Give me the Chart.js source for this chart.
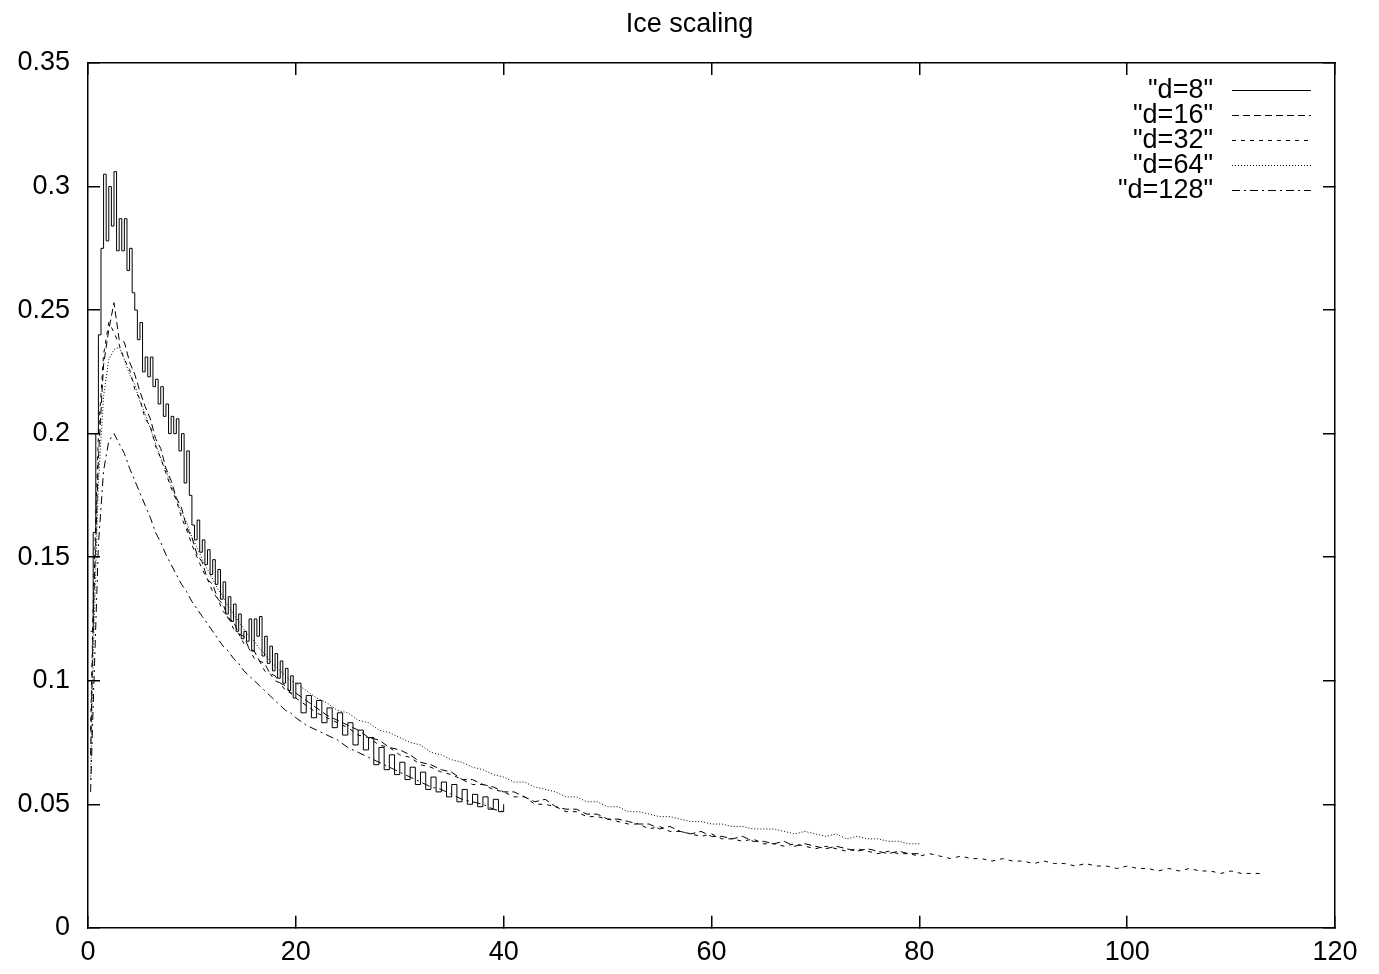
<!DOCTYPE html>
<html>
<head>
<meta charset="utf-8">
<title>Ice scaling</title>
<script src="https://cdn.jsdelivr.net/npm/chart.js@4.4.0/dist/chart.umd.min.js"></script>
<style>
  html, body { margin: 0; padding: 0; background: #fff; }
  #wrap { width: 1379px; height: 974px; }
</style>
</head>
<body>
<div id="wrap"><canvas id="iceChart" width="1379" height="974"></canvas></div>
<script>

// x positions for the larger runs (0.5 steps up to 20, then unit steps)
const xGrid = [
  0.25, 0.5, 1, 1.5, 2, 2.5, 3, 3.5, 4, 4.5,
  5, 5.5, 6, 6.5, 7, 7.5, 8, 8.5, 9, 9.5,
  10, 10.5, 11, 11.5, 12, 12.5, 13, 13.5, 14, 14.5,
  15, 15.5, 16, 16.5, 17, 17.5, 18, 18.5, 19, 19.5,
  20,
  21, 22, 23, 24, 25, 26, 27, 28, 29, 30,
  31, 32, 33, 34, 35, 36, 37, 38, 39, 40,
  41, 42, 43, 44, 45, 46, 47, 48, 49, 50,
  51, 52, 53, 54, 55, 56, 57, 58, 59, 60,
  61, 62, 63, 64, 65, 66, 67, 68, 69, 70,
  71, 72, 73, 74, 75, 76, 77, 78, 79, 80,
  81, 82, 83, 84, 85, 86, 87, 88, 89, 90,
  91, 92, 93, 94, 95, 96, 97, 98, 99, 100,
  101, 102, 103, 104, 105, 106, 107, 108, 109, 110,
  111, 112, 113
]

// d=8 is sampled finer (0.25 up to 20, 0.5 after)
const xGrid8 = [
  0.25, 0.5, 0.75, 1, 1.25, 1.5, 1.75, 2, 2.25, 2.5,
  2.75, 3, 3.25, 3.5, 3.75, 4, 4.25, 4.5, 4.75, 5,
  5.25, 5.5, 5.75, 6, 6.25, 6.5, 6.75, 7, 7.25, 7.5,
  7.75, 8, 8.25, 8.5, 8.75, 9, 9.25, 9.5, 9.75, 10,
  10.25, 10.5, 10.75, 11, 11.25, 11.5, 11.75, 12, 12.25, 12.5,
  12.75, 13, 13.25, 13.5, 13.75, 14, 14.25, 14.5, 14.75, 15,
  15.25, 15.5, 15.75, 16, 16.25, 16.5, 16.75, 17, 17.25, 17.5,
  17.75, 18, 18.25, 18.5, 18.75, 19, 19.25, 19.5, 19.75, 20,
  20.5, 21, 21.5, 22, 22.5, 23, 23.5, 24, 24.5, 25,
  25.5, 26, 26.5, 27, 27.5, 28, 28.5, 29, 29.5, 30,
  30.5, 31, 31.5, 32, 32.5, 33, 33.5, 34, 34.5, 35,
  35.5, 36, 36.5, 37, 37.5, 38, 38.5, 39, 39.5, 40
]

const seriesNames = ['"d=8"', '"d=16"', '"d=32"', '"d=64"', '"d=128"']

const d8 = [
  0.12, 0.16, 0.2, 0.24, 0.275, 0.305, 0.278, 0.3, 0.284, 0.306,
  0.274, 0.287, 0.274, 0.287, 0.266, 0.275, 0.257, 0.25, 0.238, 0.245,
  0.225, 0.231, 0.223, 0.231, 0.219, 0.222, 0.212, 0.219, 0.207, 0.212,
  0.2, 0.207, 0.2, 0.206, 0.193, 0.2, 0.18, 0.193, 0.175, 0.163,
  0.157, 0.165, 0.152, 0.157, 0.147, 0.153, 0.143, 0.149, 0.139, 0.145,
  0.133, 0.14, 0.127, 0.134, 0.124, 0.131, 0.12, 0.127, 0.117, 0.12,
  0.116, 0.125, 0.112, 0.125, 0.118, 0.126, 0.11, 0.118, 0.107, 0.114,
  0.104, 0.111, 0.101, 0.108, 0.099, 0.105, 0.096, 0.102, 0.093, 0.099,
  0.087, 0.094, 0.085, 0.092, 0.083, 0.089, 0.081, 0.087, 0.078, 0.083,
  0.074, 0.08, 0.072, 0.077, 0.066, 0.073, 0.064, 0.07, 0.062, 0.067,
  0.06, 0.065, 0.058, 0.063, 0.056, 0.061, 0.055, 0.059, 0.053, 0.058,
  0.051, 0.056, 0.05, 0.054, 0.049, 0.053, 0.048, 0.052, 0.047, 0.05
]

const d16 = [
  0.07, 0.125, 0.19, 0.228, 0.242, 0.253, 0.238, 0.237, 0.229, 0.224,
  0.217, 0.211, 0.206, 0.198, 0.194, 0.186, 0.181, 0.174, 0.17, 0.162,
  0.158, 0.151, 0.148, 0.141, 0.139, 0.133, 0.131, 0.125, 0.124, 0.119,
  0.118, 0.113, 0.112, 0.108, 0.107, 0.103, 0.102, 0.099, 0.098, 0.095,
  0.095,
  0.092, 0.089, 0.086, 0.084, 0.082, 0.08, 0.077, 0.076, 0.073, 0.072,
  0.07, 0.067, 0.066, 0.064, 0.063, 0.06, 0.06, 0.058, 0.057, 0.055,
  0.055, 0.053, 0.051, 0.052, 0.049, 0.048, 0.048, 0.046, 0.046, 0.044,
  0.044, 0.043, 0.042, 0.042, 0.04, 0.041, 0.039, 0.038, 0.039, 0.037,
  0.037, 0.036, 0.037, 0.035, 0.035, 0.034, 0.035, 0.033, 0.034, 0.033,
  0.032, 0.033, 0.032, 0.031, 0.032, 0.031, 0.03, 0.031, 0.03, 0.03
]

const d32 = [
  0.08, 0.13, 0.2, 0.232, 0.245, 0.241, 0.236, 0.23, 0.226, 0.218,
  0.214, 0.206, 0.203, 0.195, 0.19, 0.184, 0.178, 0.173, 0.166, 0.161,
  0.155, 0.15, 0.145, 0.141, 0.136, 0.133, 0.128, 0.126, 0.121, 0.119,
  0.115, 0.113, 0.109, 0.108, 0.104, 0.103, 0.1, 0.099, 0.096, 0.095,
  0.093,
  0.09, 0.087, 0.085, 0.083, 0.081, 0.078, 0.077, 0.074, 0.073, 0.07,
  0.069, 0.066, 0.065, 0.063, 0.062, 0.06, 0.058, 0.058, 0.056, 0.055,
  0.053, 0.053, 0.05, 0.05, 0.049, 0.047, 0.047, 0.045, 0.045, 0.044,
  0.043, 0.042, 0.042, 0.04, 0.041, 0.039, 0.039, 0.038, 0.037, 0.038,
  0.036, 0.036, 0.035, 0.036, 0.034, 0.034, 0.033, 0.034, 0.033, 0.032,
  0.033, 0.032, 0.031, 0.032, 0.031, 0.03, 0.031, 0.03, 0.03, 0.029,
  0.03, 0.029, 0.028, 0.029, 0.028, 0.028, 0.027, 0.028, 0.027, 0.027,
  0.026, 0.027, 0.026, 0.026, 0.025, 0.026, 0.025, 0.025, 0.024, 0.025,
  0.024, 0.024, 0.023, 0.024, 0.023, 0.024, 0.023, 0.023, 0.022, 0.023,
  0.022, 0.022, 0.022
]

const d64 = [
  0.06, 0.11, 0.18, 0.215, 0.23, 0.234, 0.235, 0.23, 0.224, 0.22,
  0.213, 0.208, 0.202, 0.196, 0.19, 0.185, 0.179, 0.174, 0.168, 0.164,
  0.158, 0.154, 0.149, 0.145, 0.141, 0.137, 0.134, 0.13, 0.127, 0.124,
  0.121, 0.118, 0.116, 0.113, 0.111, 0.108, 0.106, 0.104, 0.102, 0.1,
  0.099,
  0.096, 0.093, 0.091, 0.088, 0.087, 0.084, 0.083, 0.08, 0.079, 0.077,
  0.075, 0.074, 0.071, 0.07, 0.068, 0.067, 0.065, 0.064, 0.062, 0.061,
  0.059, 0.059, 0.057, 0.056, 0.055, 0.053, 0.053, 0.051, 0.051, 0.049,
  0.049, 0.047, 0.047, 0.046, 0.045, 0.045, 0.044, 0.043, 0.043, 0.042,
  0.042, 0.041, 0.041, 0.04, 0.04, 0.04, 0.039, 0.038, 0.039, 0.038,
  0.037, 0.038, 0.036, 0.037, 0.036, 0.036, 0.035, 0.035, 0.034, 0.034
]

const d128 = [
  0.055, 0.09, 0.155, 0.185, 0.197, 0.2, 0.196, 0.192, 0.186, 0.181,
  0.176, 0.171, 0.166, 0.16, 0.156, 0.151, 0.147, 0.143, 0.139, 0.136,
  0.132, 0.129, 0.126, 0.123, 0.12, 0.117, 0.114, 0.112, 0.109, 0.107,
  0.104, 0.102, 0.1, 0.098, 0.096, 0.094, 0.092, 0.09, 0.088, 0.087,
  0.085,
  0.082, 0.08, 0.078, 0.076, 0.073, 0.071, 0.069, 0.067, 0.065, 0.063,
  0.061, 0.059, 0.057, 0.056, 0.054, 0.052, 0.051, 0.05, 0.048, 0.047
]

const xTicks = [0, 20, 40, 60, 80, 100, 120]
const yTicks = [0, 0.05, 0.1, 0.15, 0.2, 0.25, 0.3, 0.35]
const yTickLabels = ['0', '0.05', '0.1', '0.15', '0.2', '0.25', '0.3', '0.35']


const FONT = "'Liberation Sans', Arial, Helvetica, sans-serif"
Chart.defaults.font.family = FONT
Chart.defaults.font.size = 27
Chart.defaults.color = '#000'


function pts(xs, ys){
  return ys.map((y, i) => ({x: xs[i], y: y}))
}


// gnuplot style ticks: short, pointing into the plot
function inwardGrid(){
  return {
    drawOnChartArea: false,
    drawTicks: true,
    tickLength: -12,
    color: '#000',
    lineWidth: 1.5
  }
}


// key drawn inside the plot, top right, text first then the line sample
const keyInside = {
  id: 'keyInside',
  afterDatasetsDraw(chart){
    const ctx = chart.ctx
    const area = chart.chartArea
    ctx.save()
    ctx.font = '27px ' + FONT
    ctx.textAlign = 'right'
    ctx.textBaseline = 'middle'
    ctx.fillStyle = '#000'
    chart.data.datasets.forEach((ds, i) => {
      const y = Math.round(area.top + 27 + i * 25) + 0.5
      ctx.fillText(ds.label, area.right - 122, y)
      ctx.beginPath()
      ctx.setLineDash(ds.borderDash || [])
      ctx.lineWidth = 1
      ctx.strokeStyle = '#000'
      ctx.moveTo(area.right - 103, y)
      ctx.lineTo(area.right - 24, y)
      ctx.stroke()
    })
    ctx.restore()
  }
}


let dsets = [
  {
    label: seriesNames[0],
    data: pts(xGrid8, d8),
    stepped: true,
    borderDash: []
  },
  {
    label: seriesNames[1],
    data: pts(xGrid, d16),
    borderDash: [7, 4]
  },
  {
    label: seriesNames[2],
    data: pts(xGrid, d32),
    borderDash: [4, 5]
  },
  {
    label: seriesNames[3],
    data: pts(xGrid, d64),
    borderDash: [1, 2]
  },
  {
    label: seriesNames[4],
    data: pts(xGrid, d128),
    borderDash: [8, 4, 2, 4]
  }
]

dsets.forEach(ds => {
  ds.borderColor = '#000'
  ds.backgroundColor = '#000'
  ds.borderWidth = 1
  ds.pointRadius = 0
  ds.tension = 0
  ds.fill = false
})


new Chart(
  document.getElementById('iceChart'),
  {
    type: 'line',
    data: {
      datasets: dsets
    },
    plugins: [keyInside],
    options: {
      responsive: false,
      animation: false,
      devicePixelRatio: 1,
      layout: {
        padding: 0
      },
      plugins: {
        legend: {display: false},
        tooltip: {enabled: false},
        title: {
          display: true,
          text: 'Ice scaling',
          color: '#000',
          font: {size: 27, weight: 'normal'},
          padding: {top: 8, bottom: 0}
        }
      },
      scales: {
        x: {
          type: 'linear',
          position: 'bottom',
          min: 0,
          max: 120,
          afterBuildTicks: s => { s.ticks = xTicks.map(v => ({value: v})) },
          afterFit: s => { s.height = 45 },
          ticks: {padding: 21, maxRotation: 0, autoSkip: false, callback: v => String(v)},
          grid: inwardGrid(),
          border: {display: true, color: '#000', width: 1.5}
        },
        x2: {
          type: 'linear',
          position: 'top',
          min: 0,
          max: 120,
          afterBuildTicks: s => { s.ticks = xTicks.map(v => ({value: v})) },
          afterFit: s => { s.height = 22.6 },
          ticks: {display: false},
          grid: inwardGrid(),
          border: {display: true, color: '#000', width: 1.5}
        },
        y: {
          type: 'linear',
          position: 'left',
          min: 0,
          max: 0.35,
          afterBuildTicks: s => { s.ticks = yTicks.map(v => ({value: v})) },
          afterFit: s => { s.width = 88 },
          ticks: {padding: 30, autoSkip: false, callback: (v, i) => yTickLabels[i]},
          grid: inwardGrid(),
          border: {display: true, color: '#000', width: 1.5}
        },
        y2: {
          type: 'linear',
          position: 'right',
          min: 0,
          max: 0.35,
          afterBuildTicks: s => { s.ticks = yTicks.map(v => ({value: v})) },
          afterFit: s => { s.width = 44 },
          ticks: {display: false},
          grid: inwardGrid(),
          border: {display: true, color: '#000', width: 1.5}
        }
      }
    }
  }
)

</script>
</body>
</html>
